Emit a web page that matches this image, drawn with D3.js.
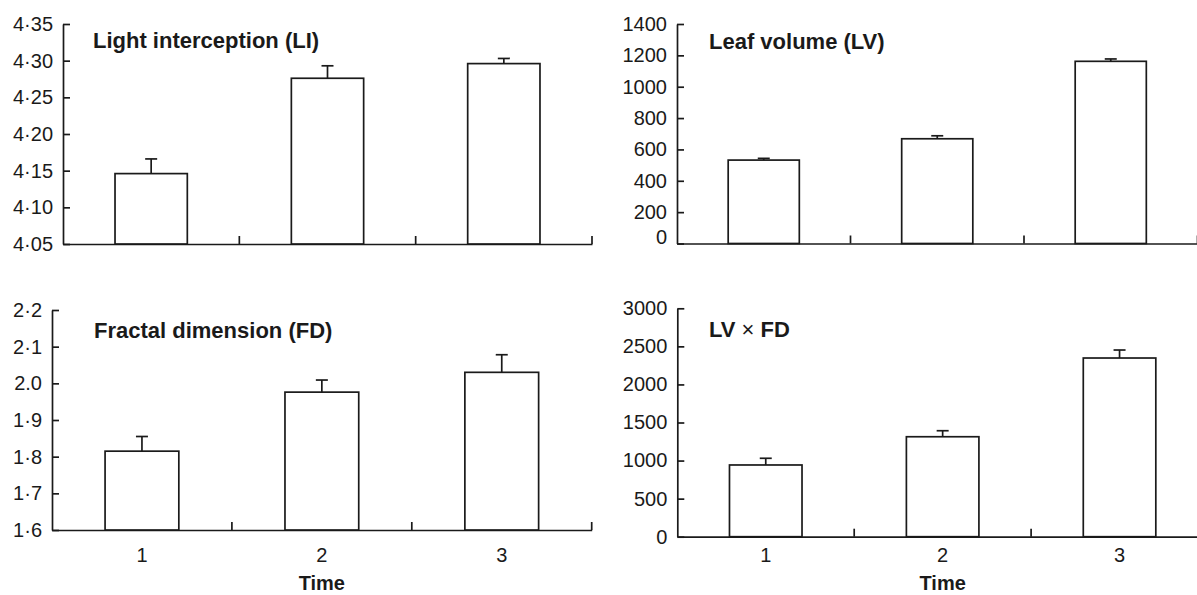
<!DOCTYPE html>
<html>
<head>
<meta charset="utf-8">
<script src="https://cdn.jsdelivr.net/npm/d3@7"></script>
<style>
  body { margin: 0; background: #fff; }
  svg { display: block; }
  .domain, .tick line, .sep, .bar, .err { stroke: #1a1a1a; stroke-width: 1.7; fill: none; }
  .bar { fill: #fff; }
  .tick text { font-family: 'Liberation Sans', Arial, sans-serif; font-size: 20px; fill: #1a1a1a; }
  .title, .xtitle { font-family: 'Liberation Sans', Arial, sans-serif; font-weight: bold; fill: #1a1a1a; }
</style>
</head>
<body>
<div class="dataviz"></div>
<script>
const times = ['1', '2', '3']

// light interception
const liMean = [4.146, 4.276, 4.296]
const liErr = [0.02, 0.017, 0.007]
const liTicks = [4.05, 4.1, 4.15, 4.2, 4.25, 4.3, 4.35]
const liLabels = ['4·05', '4·10', '4·15', '4·20', '4·25', '4·30', '4·35']

// leaf volume
const lvMean = [532, 668, 1162]
const lvErr = [11, 19, 15]
const lvTicks = [0, 200, 400, 600, 800, 1000, 1200, 1400]
const lvLabels = ['0', '200', '400', '600', '800', '1000', '1200', '1400']

// fractal dimension
const fdMean = [1.815, 1.976, 2.03]
const fdErr = [0.04, 0.033, 0.048]
const fdTicks = [1.6, 1.7, 1.8, 1.9, 2.0, 2.1, 2.2]
const fdLabels = ['1·6', '1·7', '1·8', '1·9', '2.0', '2·1', '2·2']

// LV x FD
const lvfdMean = [942, 1313, 2347]
const lvfdErr = [88, 79, 105]
const lvfdTicks = [0, 500, 1000, 1500, 2000, 2500, 3000]
const lvfdLabels = ['0', '500', '1000', '1500', '2000', '2500', '3000']

const panels = [
  { mean: liMean, err: liErr, ticks: liTicks, labels: liLabels,
    left: 63, right: 592, top: 24, bottom: 244, title: ['Light interception (LI)'],
    tx: 93, ty: 48, xLabels: false },
  { mean: lvMean, err: lvErr, ticks: lvTicks, labels: lvLabels,
    left: 677, right: 1197.5, top: 24, bottom: 243.5, title: ['Leaf volume (LV)'],
    tx: 709, ty: 49, xLabels: false, zeroNudge: -6 },
  { mean: fdMean, err: fdErr, ticks: fdTicks, labels: fdLabels,
    left: 52, right: 591.7, top: 310, bottom: 530, title: ['Fractal dimension (FD)'],
    tx: 94, ty: 337.7, xLabels: true },
  { mean: lvfdMean, err: lvfdErr, ticks: lvfdTicks, labels: lvfdLabels,
    left: 677.3, right: 1208, top: 308.3, bottom: 536.7, title: ['LV', ' × ', 'FD'],
    tx: 709, ty: 336.7, xLabels: true }
]

const width = 1197
const height = 595

const svg = d3.select('.dataviz').append('svg')
  .attr('width', width).attr('height', height)

const drawPanel = p => {
  const g = svg.append('g')

  const x = d3.scaleBand().domain(times).range([p.left, p.right])
  const xBar = d3.scaleBand().domain(times).range([p.left, p.right])
    .paddingInner(0.59).paddingOuter(0.295)
  const y = d3.scaleLinear()
    .domain([p.ticks[0], p.ticks[p.ticks.length - 1]])
    .range([p.bottom, p.top])

  // y axis, ticks pointing inward
  const yAxis = g.append('g')
    .attr('transform', `translate(${p.left},0)`)
    .call(d3.axisLeft(y)
      .tickValues(p.ticks)
      .tickFormat((d, i) => p.labels[i])
      .tickSizeInner(-7)
      .tickSizeOuter(0)
      .tickPadding(10))
  if (p.zeroNudge) {
    yAxis.selectAll('.tick text')
      .filter(d => d === 0)
      .attr('transform', `translate(0,${p.zeroNudge})`)
  }

  // x axis
  g.append('g')
    .attr('transform', `translate(0,${p.bottom})`)
    .call(d3.axisBottom(x)
      .tickSize(0)
      .tickPadding(555 - 7 - p.bottom)
      .tickFormat(d => (p.xLabels ? d : '')))

  // separators between the groups
  g.selectAll('.sep')
    .data(times)
    .join('line')
    .attr('class', 'sep')
    .attr('x1', d => x(d) + x.bandwidth())
    .attr('x2', d => x(d) + x.bandwidth())
    .attr('y1', p.bottom)
    .attr('y2', p.bottom - 8)

  // bars
  g.selectAll('.bar')
    .data(times)
    .join('rect')
    .attr('class', 'bar')
    .attr('x', d => xBar(d))
    .attr('width', xBar.bandwidth())
    .attr('y', (d, i) => y(p.mean[i]))
    .attr('height', (d, i) => p.bottom - y(p.mean[i]))

  // error bars
  const cx = d => xBar(d) + xBar.bandwidth() / 2
  g.selectAll('.errv')
    .data(times)
    .join('line')
    .attr('class', 'err')
    .attr('x1', cx).attr('x2', cx)
    .attr('y1', (d, i) => y(p.mean[i]))
    .attr('y2', (d, i) => y(p.mean[i] + p.err[i]))
  g.selectAll('.errc')
    .data(times)
    .join('line')
    .attr('class', 'err')
    .attr('x1', d => cx(d) - 6).attr('x2', d => cx(d) + 6)
    .attr('y1', (d, i) => y(p.mean[i] + p.err[i]))
    .attr('y2', (d, i) => y(p.mean[i] + p.err[i]))

  // title
  const t = g.append('text')
    .attr('class', 'title')
    .attr('x', p.tx)
    .attr('y', p.ty)
    .attr('font-size', 22)
  p.title.forEach(s => {
    t.append('tspan')
      .attr('font-weight', s.includes('×') ? 'normal' : 'bold')
      .text(s)
  })

  if (p.xLabels) {
    g.append('text')
      .attr('class', 'xtitle')
      .attr('x', x('2') + x.bandwidth() / 2)
      .attr('y', 590)
      .attr('text-anchor', 'middle')
      .attr('font-size', 20)
      .text('Time')
  }
}

panels.forEach(drawPanel)
</script>
</body>
</html>
